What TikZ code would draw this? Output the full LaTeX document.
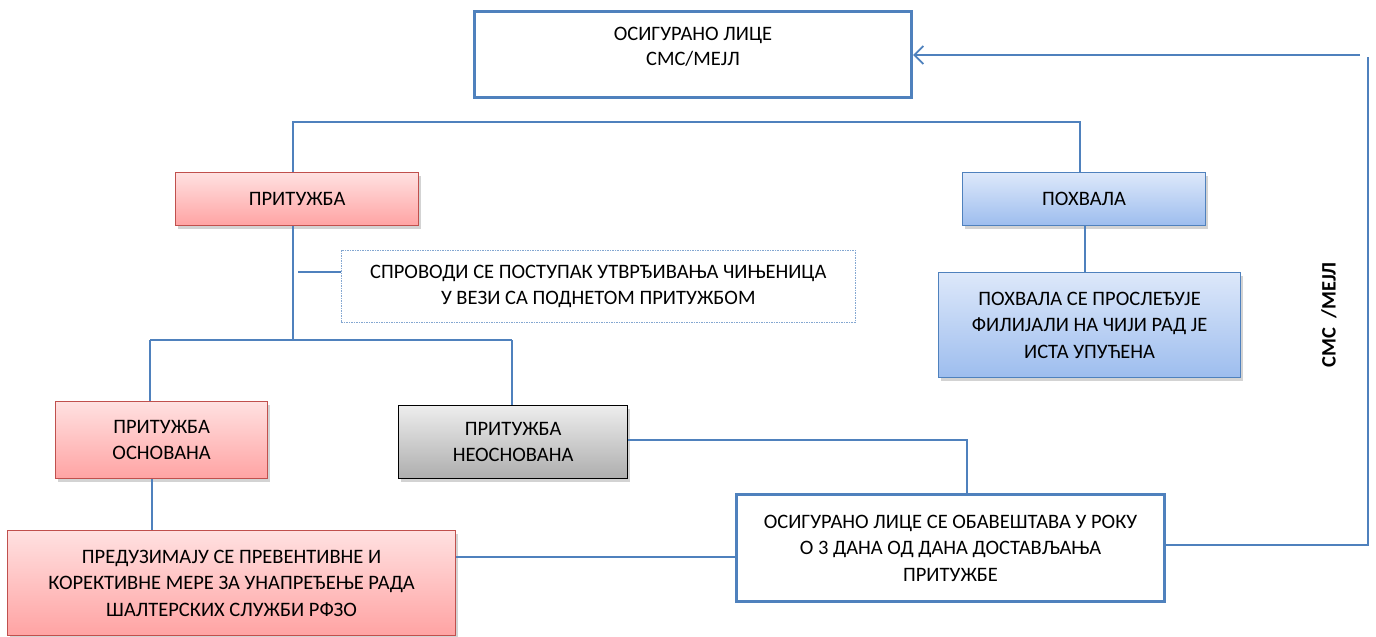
\documentclass[tikz,border=0pt]{standalone}
\usepackage{fontspec}
\setmainfont{Carlito}
\usetikzlibrary{arrows.meta,shadows,calc}
\definecolor{lnblue}{HTML}{4F81BD}
\definecolor{redbd}{HTML}{C0504D}
\definecolor{bluetop}{HTML}{DDE8FA}
\definecolor{bluebot}{HTML}{9DBDEE}
\definecolor{redtop}{HTML}{FFE1E1}
\definecolor{redbot}{HTML}{FFA3A3}
\begin{document}
\begin{tikzpicture}[x=1pt,y=-1pt,
  every node/.style={font=\fontsize{20.5}{26.5}\selectfont, align=center, inner sep=0pt, anchor=north west},
  conn/.style={draw=lnblue, line width=1.8pt},
  whitebox/.style={draw=lnblue, line width=3pt, fill=white},
  shad/.style={drop shadow={opacity=0.35, shadow xshift=2pt, shadow yshift=-3pt}},
  redbox/.style={shad, draw=redbd, line width=1.2pt, top color=redtop, bottom color=redbot},
  bluebox/.style={shad, draw=lnblue, line width=1.2pt, top color=bluetop, bottom color=bluebot},
  graybox/.style={shad, draw=black, line width=1.2pt, top color=black!7, bottom color=black!32},
  dotbox/.style={draw=lnblue!70!white, line width=0.6pt, dash pattern=on 1.5pt off 1pt, fill=white}
]
\useasboundingbox (0,0) rectangle (1376,637);

% nodes
\node[whitebox, minimum width=437pt, minimum height=86pt, font=\fontsize{20.5}{25}\selectfont, text depth=17pt] (top) at (473,10) {ОСИГУРАНО ЛИЦЕ\\СМС/МЕЈЛ};
\node[redbox, minimum width=243pt, minimum height=53pt] (prit) at (175,172) {ПРИТУЖБА};
\node[bluebox, minimum width=243pt, minimum height=53pt] (pohv) at (962,172) {ПОХВАЛА};
\node[bluebox, minimum width=302pt, minimum height=105pt] (proc) at (938,272) {ПОХВАЛА СЕ ПРОСЛЕЂУЈЕ\\ФИЛИЈАЛИ НА ЧИЈИ РАД ЈЕ\\ИСТА УПУЋЕНА};
\node[dotbox, minimum width=514pt, minimum height=72pt] (dash) at (341,250) {СПРОВОДИ СЕ ПОСТУПАК УТВРЂИВАЊА ЧИЊЕНИЦА\\У ВЕЗИ СА ПОДНЕТОМ ПРИТУЖБОМ};
\node[redbox, minimum width=212pt, minimum height=77pt] (osn) at (55,401) {ПРИТУЖБА\\ОСНОВАНА};
\node[graybox, minimum width=229pt, minimum height=73pt] (neosn) at (398,405) {ПРИТУЖБА\\НЕОСНОВАНА};
\node[redbox, minimum width=448pt, minimum height=105pt] (pred) at (7,530) {ПРЕДУЗИМАЈУ СЕ ПРЕВЕНТИВНЕ И\\КОРЕКТИВНЕ МЕРЕ ЗА УНАПРЕЂЕЊЕ РАДА\\ШАЛТЕРСКИХ СЛУЖБИ РФЗО};
\node[whitebox, minimum width=428pt, minimum height=107pt] (obav) at (735,493) {ОСИГУРАНО ЛИЦЕ СЕ ОБАВЕШТАВА У РОКУ\\О 3 ДАНА ОД ДАНА ДОСТАВЉАЊА\\ПРИТУЖБЕ};
\node[anchor=center, rotate=90, font=\fontsize{20.5}{24}\selectfont\bfseries] (sms) at (1329,315) {СМС\ \ /МЕЈЛ};

% junction coordinates
\coordinate (j1) at (293,122);
\coordinate (j1b) at (1080,122);
\coordinate (j2) at (293,340);
\coordinate (j2a) at (150,340);
\coordinate (j2b) at (512,340);
\coordinate (s1) at (298,272);
\coordinate (c3) at (967,440);
\coordinate (l4) at (600,557);
\coordinate (r1) at (1368,545);
\coordinate (r2) at (1368,57);
\coordinate (r3) at (1360,55);
\coordinate (v1) at (1085,0);
\coordinate (v2) at (152,0);

% connectors
\draw[conn] (prit.north -| j1) -- (j1) -- (j1b) -- (pohv.north -| j1b);
\draw[conn] (pohv.south -| v1) -- (proc.north -| v1);
\draw[conn] (prit.south -| j1) -- (j2);
\draw[conn] (s1) -- (s1 -| dash.west);
\draw[conn] (j2a) -- (j2b);
\draw[conn] (j2a) -- (osn.north -| j2a);
\draw[conn] (j2b) -- (neosn.north -| j2b);
\draw[conn] (osn.south -| v2) -- (pred.north -| v2);
\draw[conn] (neosn.east |- c3) -- (c3) -- (c3 |- obav.north);
\draw[conn] (pred.east |- l4) -- (obav.west |- l4);
\draw[conn] (obav.east |- r1) -- (r1) -- (r2);
\draw[conn, -{Straight Barb[length=9pt,width=18pt,line width=1.8pt]}] (r3) -- (top.east |- r3);
\end{tikzpicture}
\end{document}
